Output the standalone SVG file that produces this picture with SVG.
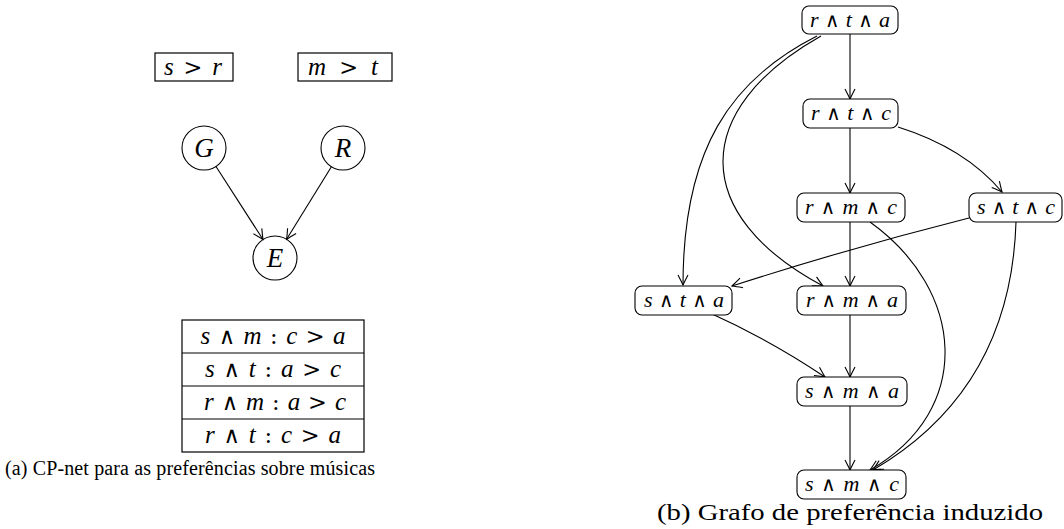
<svg xmlns="http://www.w3.org/2000/svg" width="1064" height="529" viewBox="0 0 1064 529">
<style>
.m{font-family:"Liberation Serif","DejaVu Serif",serif;font-style:italic;font-size:22px;text-anchor:middle;fill:#000}
.t{font-size:25px}
.c{font-size:27px}
.o{font-style:normal;font-family:"DejaVu Serif","Liberation Serif",serif;font-size:0.9em}
.cap{font-family:"Liberation Serif","DejaVu Serif",serif;font-size:20px;fill:#000}
.box{fill:#fff;stroke:#000;stroke-width:1.2}
.nd{fill:#fff;stroke:#000;stroke-width:1.1}
.e{fill:none;stroke:#000;stroke-width:1.1;marker-end:url(#ah)}
</style>
<defs>
<marker id="ah" markerUnits="userSpaceOnUse" viewBox="-12 -7 14 14" refX="0" refY="0" markerWidth="14" markerHeight="14" orient="auto">
<path d="M-10,-5 Q-3.5,-1.6 0,0 Q-3.5,1.6 -10,5" fill="none" stroke="#000" stroke-width="1.1"/>
</marker>
</defs>
<rect width="1064" height="529" fill="#fff"/>

<!-- Left: CP-net -->
<g id="cpt-G"><rect class="box" x="155" y="53" width="78" height="28"/><text class="m t" x="193" y="75" textLength="58">s <tspan class="o">&gt;</tspan> r</text></g>
<g id="cpt-R"><rect class="box" x="298" y="53" width="94" height="28"/><text class="m t" x="343" y="75" textLength="70">m <tspan class="o">&gt;</tspan> t</text></g>
<g id="G"><circle class="nd" cx="204" cy="148" r="22"/><text class="m c" x="204" y="157">G</text></g>
<g id="R"><circle class="nd" cx="343" cy="148" r="22"/><text class="m c" x="343" y="157">R</text></g>
<g id="E"><circle class="nd" cx="275" cy="258" r="22"/><text class="m c" x="275" y="267">E</text></g>
<g id="cpt-E">
<rect class="box" x="182" y="320" width="182" height="132"/>
<line x1="182" y1="353" x2="364" y2="353" stroke="#000" stroke-width="1.2"/>
<line x1="182" y1="386" x2="364" y2="386" stroke="#000" stroke-width="1.2"/>
<line x1="182" y1="419" x2="364" y2="419" stroke="#000" stroke-width="1.2"/>
<text class="m t" x="273" y="344" textLength="145">s <tspan class="o">∧</tspan> m <tspan class="o">:</tspan> c <tspan class="o">&gt;</tspan> a</text>
<text class="m t" x="273" y="377" textLength="136">s <tspan class="o">∧</tspan> t <tspan class="o">:</tspan> a <tspan class="o">&gt;</tspan> c</text>
<text class="m t" x="275" y="410" textLength="142">r <tspan class="o">∧</tspan> m <tspan class="o">:</tspan> a <tspan class="o">&gt;</tspan> c</text>
<text class="m t" x="273" y="443" textLength="136">r <tspan class="o">∧</tspan> t <tspan class="o">:</tspan> c <tspan class="o">&gt;</tspan> a</text>
</g>
<g id="cpnet-edges">
<line class="e" x1="216" y1="166.5" x2="263" y2="239.5"/>
<line class="e" x1="331.4" y1="166.7" x2="286.6" y2="239.3"/>
</g>
<text class="cap" x="5" y="475" textLength="370">(a) CP-net para as preferências sobre músicas</text>

<!-- Right: preference graph -->
<g id="edges">
<line class="e" x1="850" y1="34" x2="850" y2="99"/>
<line class="e" x1="850" y1="128" x2="850" y2="193"/>
<path class="e" d="M898,127 Q965,148 1002,192"/>
<line class="e" x1="850" y1="222" x2="850" y2="286"/>
<line class="e" x1="850" y1="315" x2="850" y2="377"/>
<line class="e" x1="850" y1="406" x2="850" y2="470"/>
<path class="e" d="M817,36 C730,80 683,150 683,285"/>
<path class="e" d="M821,36 C690,110 690,215 823,286"/>
<path class="e" d="M870,222 C965,290 975,410 870,470"/>
<path class="e" d="M1016,222 C1012,350 950,425 873,470"/>
<path class="e" d="M969,218 Q850,248 732,286"/>
<path class="e" d="M710,313 Q770,340 825,377"/>
</g>
<g id="rta"><rect class="nd" x="802" y="6" width="96" height="28" rx="7"/><text class="m" x="850" y="27" textLength="80">r <tspan class="o">∧</tspan> t <tspan class="o">∧</tspan> a</text></g>
<g id="rtc"><rect class="nd" x="803" y="99" width="95" height="29" rx="7"/><text class="m" x="851" y="120" textLength="80">r <tspan class="o">∧</tspan> t <tspan class="o">∧</tspan> c</text></g>
<g id="rmc"><rect class="nd" x="797" y="193" width="108" height="29" rx="7"/><text class="m" x="851" y="214" textLength="92">r <tspan class="o">∧</tspan> m <tspan class="o">∧</tspan> c</text></g>
<g id="stc"><rect class="nd" x="969" y="193" width="93" height="29" rx="7"/><text class="m" x="1016" y="214" textLength="78">s <tspan class="o">∧</tspan> t <tspan class="o">∧</tspan> c</text></g>
<g id="sta"><rect class="nd" x="635" y="286" width="97" height="29" rx="7"/><text class="m" x="684" y="307" textLength="80">s <tspan class="o">∧</tspan> t <tspan class="o">∧</tspan> a</text></g>
<g id="rma"><rect class="nd" x="797" y="286" width="109" height="29" rx="7"/><text class="m" x="852" y="307" textLength="92">r <tspan class="o">∧</tspan> m <tspan class="o">∧</tspan> a</text></g>
<g id="sma"><rect class="nd" x="797" y="377" width="110" height="29" rx="7"/><text class="m" x="852" y="398" textLength="94">s <tspan class="o">∧</tspan> m <tspan class="o">∧</tspan> a</text></g>
<g id="smc"><rect class="nd" x="797" y="470" width="109" height="29" rx="7"/><text class="m" x="852" y="491" textLength="94">s <tspan class="o">∧</tspan> m <tspan class="o">∧</tspan> c</text></g>
<text class="cap" x="657" y="520" textLength="386" lengthAdjust="spacingAndGlyphs" style="font-size:23px">(b) Grafo de preferência induzido</text>
</svg>
